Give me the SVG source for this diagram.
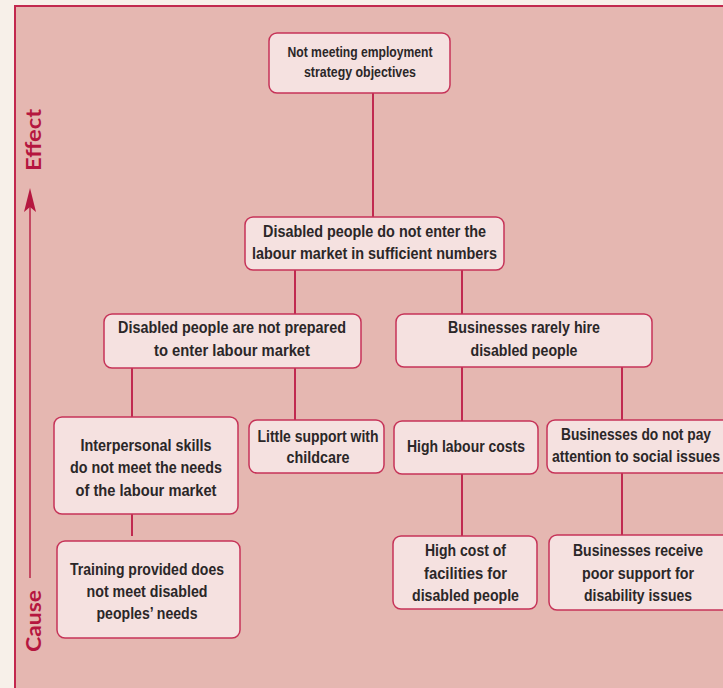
<svg xmlns="http://www.w3.org/2000/svg" width="723" height="688" viewBox="0 0 723 688">
<style>
.box{fill:#f5e1e0;stroke:#c63358;stroke-width:1.5}
.t{font-family:"Liberation Sans Narrow","Liberation Sans","DejaVu Sans",sans-serif;font-weight:bold;font-size:16.5px;fill:#2b2728;text-anchor:middle}
.s{font-size:14.5px}
.con{stroke:#c02a50;stroke-width:2;fill:none}
.ax{font-family:Lato,"Open Sans",sans-serif;font-weight:bold;font-size:21px;fill:#b5163f;text-anchor:middle}
</style>
<rect x="0" y="0" width="723" height="688" fill="#f7f0e9"/>
<rect x="15" y="6" width="720" height="700" fill="#e5b7b1" stroke="#c2284e" stroke-width="2"/>
<g id="axis">
<line x1="30" y1="578" x2="30" y2="205" stroke="#b8264a" stroke-width="1.5"/>
<path d="M30 188 L36 212 L30 207 L24 212 Z" fill="#b5163f"/>
<text class="ax" transform="translate(41,140) rotate(-90)" textLength="62" lengthAdjust="spacingAndGlyphs">Effect</text>
<text class="ax" transform="translate(41,621) rotate(-90)" textLength="62" lengthAdjust="spacingAndGlyphs">Cause</text>
</g>
<g id="connectors">
<line class="con" x1="373" y1="93" x2="373" y2="217"/>
<line class="con" x1="295" y1="270" x2="295" y2="314"/>
<line class="con" x1="462" y1="270" x2="462" y2="314"/>
<line class="con" x1="132" y1="368" x2="132" y2="417"/>
<line class="con" x1="295" y1="368" x2="295" y2="420"/>
<line class="con" x1="462" y1="367" x2="462" y2="421"/>
<line class="con" x1="622" y1="367" x2="622" y2="420"/>
<line class="con" x1="132" y1="514" x2="132" y2="536"/>
<line class="con" x1="462" y1="474" x2="462" y2="536"/>
<line class="con" x1="622" y1="473" x2="622" y2="535"/>
</g>
<g id="n1">
<rect class="box" x="269" y="33" width="181" height="60" rx="8"/>
<text class="t s" x="360" y="57" textLength="145" lengthAdjust="spacingAndGlyphs">Not meeting employment</text>
<text class="t s" x="360" y="77" textLength="112" lengthAdjust="spacingAndGlyphs">strategy objectives</text>
</g>
<g id="n2">
<rect class="box" x="245" y="217" width="259" height="53" rx="8"/>
<text class="t" x="374.5" y="237" textLength="223" lengthAdjust="spacingAndGlyphs">Disabled people do not enter the</text>
<text class="t" x="374.5" y="259" textLength="245" lengthAdjust="spacingAndGlyphs">labour market in sufficient numbers</text>
</g>
<g id="n3">
<rect class="box" x="104" y="314" width="257" height="54" rx="8"/>
<text class="t" x="232" y="333" textLength="228" lengthAdjust="spacingAndGlyphs">Disabled people are not prepared</text>
<text class="t" x="232" y="356" textLength="156" lengthAdjust="spacingAndGlyphs">to enter labour market</text>
</g>
<g id="n4">
<rect class="box" x="396" y="314" width="256" height="53" rx="8"/>
<text class="t" x="524" y="333" textLength="152" lengthAdjust="spacingAndGlyphs">Businesses rarely hire</text>
<text class="t" x="524" y="356" textLength="107" lengthAdjust="spacingAndGlyphs">disabled people</text>
</g>
<g id="n5">
<rect class="box" x="54" y="417" width="184" height="97" rx="8"/>
<text class="t" x="146" y="451" textLength="131" lengthAdjust="spacingAndGlyphs">Interpersonal skills</text>
<text class="t" x="146" y="473" textLength="152" lengthAdjust="spacingAndGlyphs">do not meet the needs</text>
<text class="t" x="146" y="496" textLength="141" lengthAdjust="spacingAndGlyphs">of the labour market</text>
</g>
<g id="n6">
<rect class="box" x="249" y="420" width="135" height="53" rx="8"/>
<text class="t" x="318" y="442" textLength="121" lengthAdjust="spacingAndGlyphs">Little support with</text>
<text class="t" x="318" y="463" textLength="63" lengthAdjust="spacingAndGlyphs">childcare</text>
</g>
<g id="n7">
<rect class="box" x="394" y="421" width="144" height="53" rx="8"/>
<text class="t" x="466" y="452" textLength="118" lengthAdjust="spacingAndGlyphs">High labour costs</text>
</g>
<g id="n8">
<rect class="box" x="547" y="420" width="190" height="53" rx="8"/>
<text class="t" x="636" y="440" textLength="150" lengthAdjust="spacingAndGlyphs">Businesses do not pay</text>
<text class="t" x="636" y="462" textLength="168" lengthAdjust="spacingAndGlyphs">attention to social issues</text>
</g>
<g id="n9">
<rect class="box" x="57" y="541" width="183" height="97" rx="8"/>
<text class="t" x="147" y="575" textLength="154" lengthAdjust="spacingAndGlyphs">Training provided does</text>
<text class="t" x="147" y="597" textLength="121" lengthAdjust="spacingAndGlyphs">not meet disabled</text>
<text class="t" x="147" y="619" textLength="101" lengthAdjust="spacingAndGlyphs">peoples’ needs</text>
</g>
<g id="n10">
<rect class="box" x="393" y="536" width="144" height="73" rx="8"/>
<text class="t" x="465.5" y="556" textLength="81" lengthAdjust="spacingAndGlyphs">High cost of</text>
<text class="t" x="465.5" y="579" textLength="83" lengthAdjust="spacingAndGlyphs">facilities for</text>
<text class="t" x="465.5" y="601" textLength="107" lengthAdjust="spacingAndGlyphs">disabled people</text>
</g>
<g id="n11">
<rect class="box" x="549" y="535" width="190" height="75" rx="8"/>
<text class="t" x="638" y="556" textLength="130" lengthAdjust="spacingAndGlyphs">Businesses receive</text>
<text class="t" x="638" y="579" textLength="112" lengthAdjust="spacingAndGlyphs">poor support for</text>
<text class="t" x="638" y="601" textLength="108" lengthAdjust="spacingAndGlyphs">disability issues</text>
</g>
</svg>
